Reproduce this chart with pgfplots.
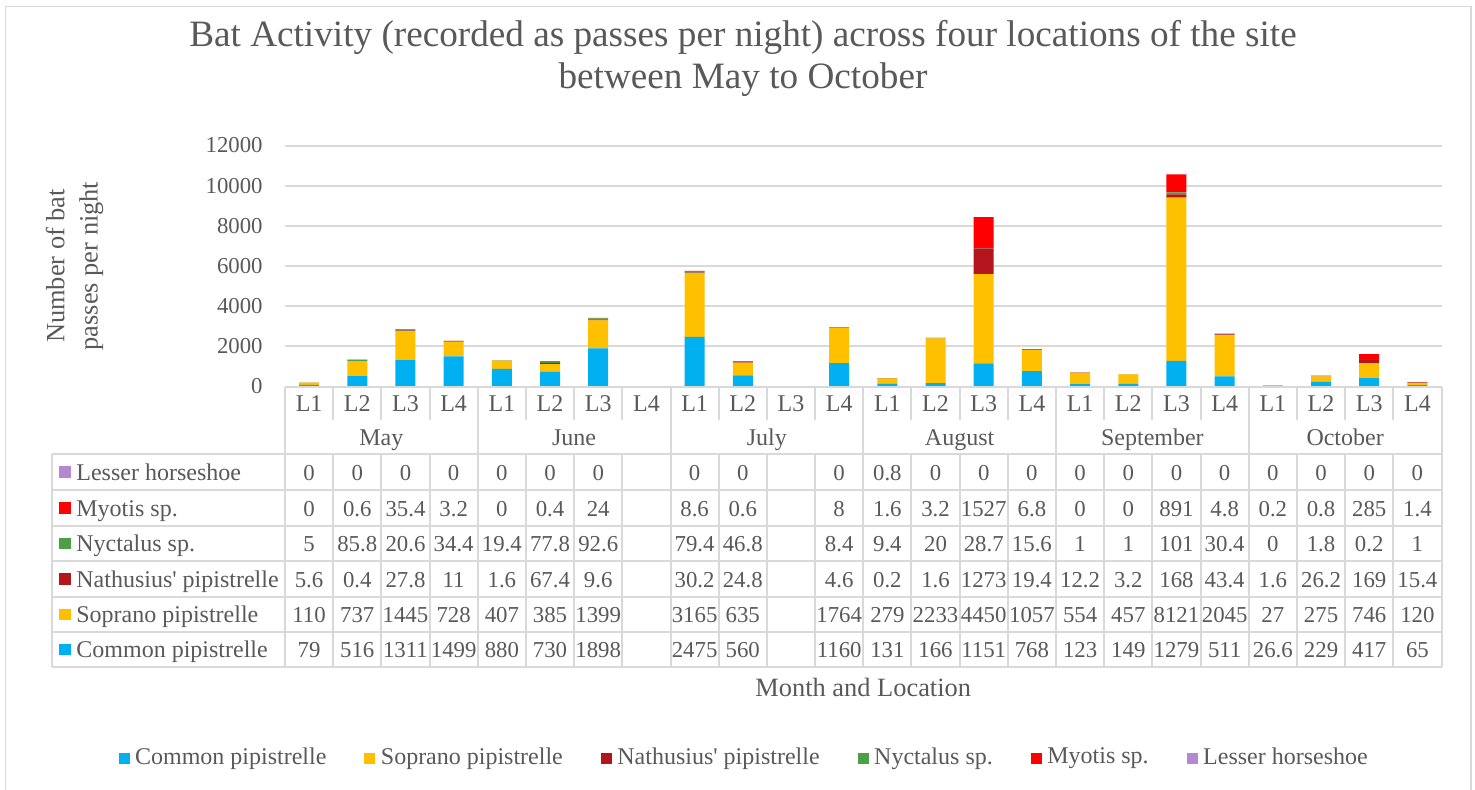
\documentclass[border=0pt]{standalone}
\usepackage{pgfplots}
\usepackage{pgfplotstable}
\pgfplotsset{compat=1.18}
\usepackage{fontspec}
\setmainfont{Liberation Serif}
\definecolor{textc}{HTML}{595959}
\definecolor{gridc}{HTML}{D9D9D9}
\definecolor{cCommon}{HTML}{00B0F0}
\definecolor{cSoprano}{HTML}{FFC000}
\definecolor{cNath}{HTML}{B2151C}
\definecolor{cNyct}{HTML}{4C9F44}
\definecolor{cMyotis}{HTML}{FF0000}
\definecolor{cLesser}{HTML}{B589D0}
\newcommand{\numfont}{\fontsize{11.4}{13}\selectfont}
\newcommand{\txtfont}{\fontsize{12}{14}\selectfont}
\newcommand{\axfont}{\fontsize{13.2}{16}\selectfont}
\newcommand{\titfont}{\fontsize{18.6}{21}\selectfont}

\pgfplotstableread{
x  common soprano nath nyct myotis lesser show
0  79     110     5.6  5    0      0      1
1  516    737     0.4  85.8 0.6    0      1
2  1311   1445    27.8 20.6 35.4   0      1
3  1499   728     11   34.4 3.2    0      1
4  880    407     1.6  19.4 0      0      1
5  730    385     67.4 77.8 0.4    0      1
6  1898   1399    9.6  92.6 24     0      1
7  0      0       0    0    0      0      0
8  2475   3165    30.2 79.4 8.6    0      1
9  560    635     24.8 46.8 0.6    0      1
10 0      0       0    0    0      0      0
11 1160   1764    4.6  8.4  8      0      1
12 131    279     0.2  9.4  1.6    0.8    1
13 166    2233    1.6  20   3.2    0      1
14 1151   4450    1273 28.7 1527   0      1
15 768    1057    19.4 15.6 6.8    0      1
16 123    554     12.2 1    0      0      1
17 149    457     3.2  1    0      0      1
18 1279   8121    168  101  891    0      1
19 511    2045    43.4 30.4 4.8    0      1
20 26.6   27      1.6  0    0.2    0      1
21 229    275     26.2 1.8  0.8    0      1
22 417    746     169  0.2  285    0      1
23 65     120     15.4 1    1.4    0      1
}\bats

\begin{document}
\begin{tikzpicture}
\path[use as bounding box] (0pt,0pt) rectangle (737.5pt,-394.5pt);
\begin{axis}[
  at={(142.5pt,-193.25pt)}, anchor=south west,
  scale only axis, width=578.25pt, height=120.5pt,
  xmin=-0.5, xmax=23.5, ymin=0, ymax=12000, enlargelimits=false,
  ybar stacked, bar width=10pt,
  xtick=\empty, ytick={0,2000,...,12000},
  scaled y ticks=false,
  /pgf/number format/assume math mode=true,
  yticklabel style={font=\numfont, text=textc, /pgf/number format/1000 sep={}, inner sep=0pt, xshift=-11pt},
  major tick length=0pt,
  axis line style={draw=none},
  ymajorgrids, grid style={draw=gridc, line width=1pt},
  legend columns=6,
  legend style={at={(0.3962,-1.5394)}, anchor=center, draw=none, fill=none,
    inner sep=0pt, outer sep=0pt, font=\txtfont\color{textc},
    nodes={inner sep=0pt},
    /tikz/every odd column/.append style={column sep=2.75pt},
    /tikz/every even column/.append style={column sep=19pt}},
  legend cell align=left,
  legend image code/.code={\fill[#1] (0pt,-3.3pt) rectangle (5.5pt,2.2pt);},
]
\addplot[fill=cCommon, draw=none] table[x=x, y=common]{\bats};
\addplot[fill=cSoprano, draw=none] table[x=x, y=soprano]{\bats};
\addplot[fill=cNath, draw=none] table[x=x, y=nath]{\bats};
\addplot[fill=cNyct, draw=none] table[x=x, y=nyct]{\bats};
\addplot[fill=cMyotis, draw=none] table[x=x, y=myotis]{\bats};
\addplot[fill=cLesser, draw=none] table[x=x, y=lesser]{\bats};
\legend{Common pipistrelle, Soprano pipistrelle, Nathusius\textquotesingle{} pipistrelle, Nyctalus sp., Myotis sp., Lesser horseshoe}
\end{axis}

\begin{scope}[x=0.5pt, y=-0.5pt]
% outer chart border
\draw[gridc, line width=0.85pt] (5.5,800) -- (5.5,6.5) -- (1471,6.5) -- (1471,800);
% title
\node[font=\titfont, text=textc, anchor=base, inner sep=0pt] at (743,46.7) {Bat Activity (recorded as passes per night) across four locations of the site};
\node[font=\titfont, text=textc, anchor=base, inner sep=0pt] at (743,88.3) {between May to October};
% y label
\node[font=\axfont, text=textc, rotate=90, anchor=base, inner sep=0pt] at (64.3,266) {Number of bat};
\node[font=\axfont, text=textc, rotate=90, anchor=base, inner sep=0pt] at (97.5,266) {passes per night};
% x label
\node[font=\axfont, text=textc, anchor=base, inner sep=0pt] at (863.25,696) {Month and Location};
% table grid
\begin{scope}[gridc, line width=1pt]
\foreach \k in {0,...,24} {
  \pgfmathsetmacro\xx{285+\k*48.1875}
  \pgfmathtruncatemacro\m{mod(\k,4)}
  \ifnum\m=0
    \draw (\xx,386.5) -- (\xx,667);
  \else
    \draw (\xx,386.5) -- (\xx,420);
    \draw (\xx,454) -- (\xx,667);
  \fi
}
\draw (52,454) -- (52,667);
\foreach \yy in {454,490,526,561,597,632,667} {\draw (52,\yy) -- (1441.5,\yy);}
\draw (285,386.5) -- (1441.5,386.5);
\end{scope}
% location header
\foreach \k in {0,...,23} {
  \pgfmathtruncatemacro\l{mod(\k,4)+1}
  \node[font=\txtfont, text=textc, anchor=base, inner sep=0pt] at ({285+(\k+0.5)*48.1875},411.7) {L\l};
}
% months
\foreach \mname [count=\i from 0] in {May,June,July,August,September,October} {
  \node[font=\txtfont, text=textc, anchor=base, inner sep=0pt] at ({285+(4*\i+2)*48.1875},445) {\mname};
}
% row labels
\foreach \lab/\cc/\yc in {Lesser horseshoe/cLesser/472, Myotis sp./cMyotis/508, Nyctalus sp./cNyct/543.5, Nathusius\textquotesingle{} pipistrelle/cNath/579, Soprano pipistrelle/cSoprano/614.5, Common pipistrelle/cCommon/649.5} {
  \fill[\cc] (59,\yc-6) rectangle (71,\yc+5.5);
  \node[font=\txtfont, text=textc, anchor=base west, inner sep=0pt] at (76,\yc+8) {\lab};
}
% values
\foreach \col/\yc in {lesser/472, myotis/508, nyct/543.5, nath/579, soprano/614.5, common/649.5} {
  \foreach \r in {0,...,23} {
    \pgfplotstablegetelem{\r}{show}\of\bats
    \ifnum\pgfplotsretval=1\relax
      \pgfplotstablegetelem{\r}{\col}\of\bats
      \node[font=\numfont, text=textc, anchor=base, inner sep=0pt] at ({285+(\r+0.5)*48.1875},\yc+8) {\pgfplotsretval};
    \fi
  }
}
\end{scope}
\end{tikzpicture}
\end{document}
